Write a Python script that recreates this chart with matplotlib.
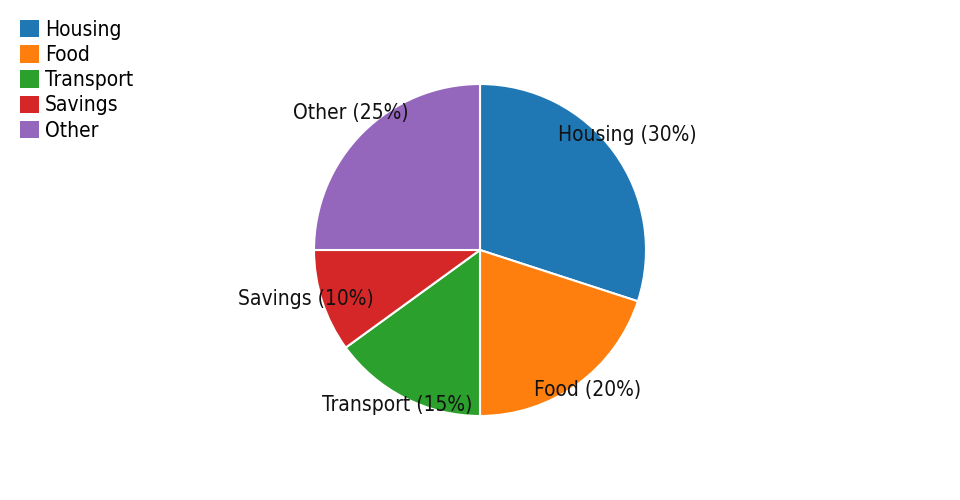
import matplotlib
matplotlib.use("Agg")
import matplotlib.pyplot as plt
import matplotlib.transforms as mtransforms
from matplotlib.patches import Patch
from matplotlib import font_manager as fm

categories = ["Housing", "Food", "Transport", "Savings", "Other"]
values = [30, 20, 15, 10, 25]
colors = ["#1f77b4", "#ff7f0e", "#2ca02c", "#d62728", "#9467bd"]

fig = plt.figure(figsize=(9.6, 5.0), dpi=100)
ax = fig.add_axes([(480 - 166) / 960, (250 - 166) / 500, 332 / 960, 332 / 500])
labels = [f"{c} ({v}%)" for c, v in zip(categories, values)]
wedges, texts = ax.pie(values, colors=colors, startangle=90, counterclock=False,
                       labels=labels, labeldistance=1.1,
                       wedgeprops=dict(edgecolor="white", linewidth=1.5))
offset = mtransforms.ScaledTranslation(0, 0.075, fig.dpi_scale_trans)
for t in texts:
    t.set_ha("center")
    t.set_va("center")
    t.set_transform(t.get_transform() + offset)
    t.set_fontsize(15)
    t.set_fontstretch("condensed")
    t.set_color("#111111")
ax.set_xlim(-1, 1)
ax.set_ylim(-1, 1)
ax.set_aspect("equal")

handles = [Patch(facecolor=c, edgecolor="none") for c in colors]
leg = fig.legend(handles, categories, loc="upper left", bbox_to_anchor=(0.012, 0.977),
                 frameon=False, prop=fm.FontProperties(size=15, stretch="condensed"),
                 handlelength=0.9, handleheight=0.9, handletextpad=0.3, labelspacing=0.25,
                 borderaxespad=0)
fig.savefig("out.png", dpi=100)
